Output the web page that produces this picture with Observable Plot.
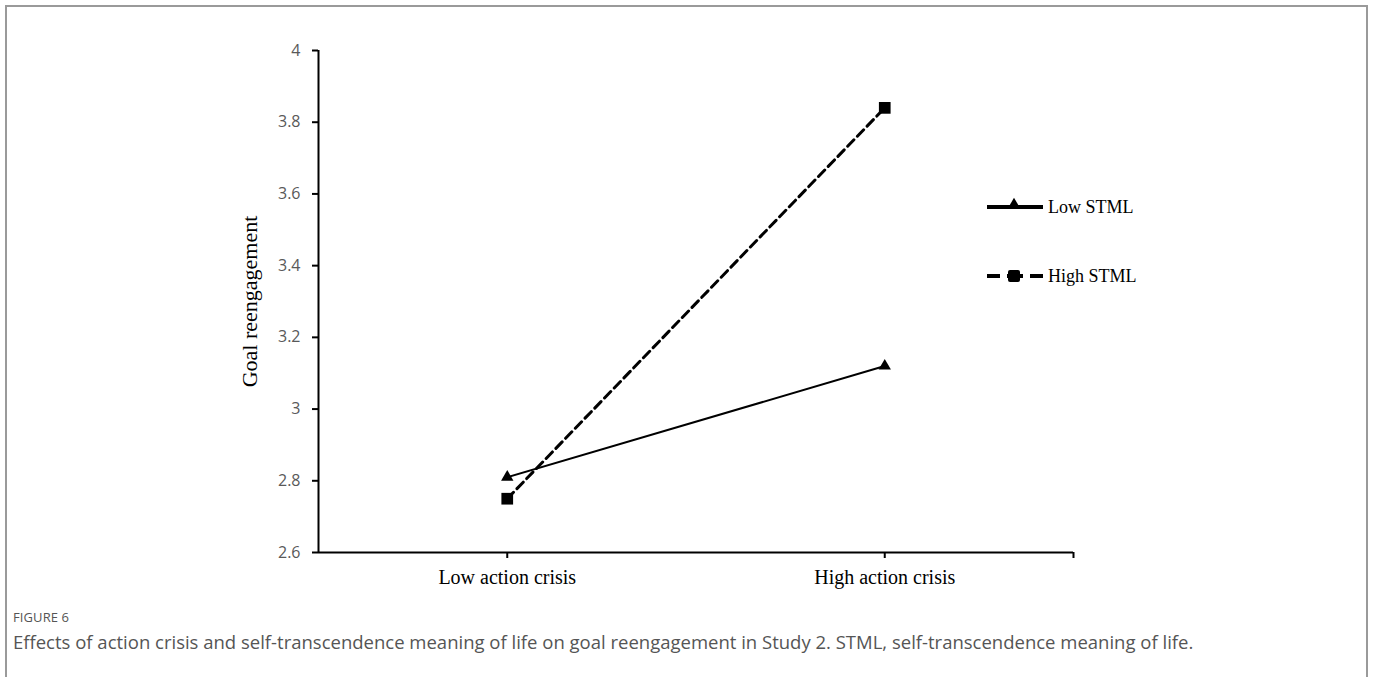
<!DOCTYPE html>
<html>
<head>
<meta charset="utf-8">
<script src="https://cdn.jsdelivr.net/npm/d3@7"></script>
<script src="https://cdn.jsdelivr.net/npm/@observablehq/plot@0.6"></script>
<style>
  html, body { margin: 0; padding: 0; background: #fff; }
  #page { position: relative; width: 1375px; height: 677px; overflow: hidden; }
  #frame { position: absolute; left: 5px; top: 5px; width: 1363px; height: 720px;
           border: 2px solid #9a9a9a; box-sizing: border-box; }
  #chart { position: absolute; left: 0; top: 0; }
  #legend { position: absolute; left: 987px; top: 196px; font-family: "Liberation Serif", serif;
            font-size: 18px; color: #000; }
  .row { display: flex; align-items: center; height: 22px; }
  .row + .row { margin-top: 47px; }
  .row svg { display: block; margin-right: 5px; }
  #fig { position: absolute; left: 13px; top: 608px; font-family: "Open Sans", sans-serif; color: #555;
         font-size: 13px; letter-spacing: 0.1px; }
  #caption { position: absolute; left: 13px; top: 629px; font-family: "Open Sans", sans-serif; color: #555;
             font-size: 18.5px; white-space: nowrap; }
</style>
</head>
<body>
<div id="page">
  <div id="frame"></div>
  <div id="chart"></div>
  <div id="legend"></div>
  <div id="fig">FIGURE 6</div>
  <div id="caption">Effects of action crisis and self-transcendence meaning of life on goal reengagement in Study 2. STML, self-transcendence meaning of life.</div>
</div>
<script>
// Condition means of goal reengagement
const categories = ["Low action crisis", "High action crisis"];
const lowSTML = [2.81, 3.12];
const highSTML = [2.75, 3.84];
const yTicks = [2.6, 2.8, 3, 3.2, 3.4, 3.6, 3.8, 4];
const seriesNames = ["Low STML", "High STML"];
const yLabel = "Goal reengagement";

// Each category occupies one unit on x; points sit at the middle of their slot
const lowRows = categories.map((c, i) => ({category: c, pos: i + 0.5, value: lowSTML[i]}));
const highRows = categories.map((c, i) => ({category: c, pos: i + 0.5, value: highSTML[i]}));
const catTicks = categories.map((c, i) => i + 0.5);
const xTickMarks = [...catTicks, categories.length];

const serif = "Liberation Serif, Times New Roman, serif";

const chart = Plot.plot({
  width: 1375,
  height: 600,
  marginLeft: 318,
  marginRight: 302,
  marginTop: 50,
  marginBottom: 48,
  x: {domain: [0, categories.length], axis: null},
  y: {domain: [yTicks[0], yTicks[yTicks.length - 1]], axis: null},
  style: {background: "transparent", overflow: "visible"},
  marks: [
    // axis lines
    Plot.ruleX([0], {stroke: "#000", strokeWidth: 2}),
    Plot.ruleY([yTicks[0]], {stroke: "#000", strokeWidth: 2}),
    // y ticks and labels
    Plot.axisY(yTicks, {tickSize: 6, text: null, stroke: "#000", strokeWidth: 2, label: null}),
    Plot.axisY(yTicks, {tickSize: 0, tickPadding: 18, tickFormat: d3.format("~g"),
      fill: "#595959", fontSize: 16, fontFamily: "Open Sans, sans-serif", label: null}),
    // x ticks and category labels
    Plot.axisX(xTickMarks, {tickSize: 6, text: null, stroke: "#000", strokeWidth: 2, label: null}),
    Plot.axisX(catTicks, {tickSize: 0, tickPadding: 17, tickFormat: (d) => categories[Math.floor(d)],
      fill: "#000", fontSize: 20, fontFamily: serif, label: null}),
    // y title
    Plot.text([yLabel], {text: (d) => d, frameAnchor: "left", textAnchor: "middle", rotate: -90, dx: -69,
      fontSize: 22, fontFamily: serif, fill: "#000"}),
    // series
    Plot.line(lowRows, {x: "pos", y: "value", stroke: "#000", strokeWidth: 2}),
    Plot.line(highRows, {x: "pos", y: "value", stroke: "#000", strokeWidth: 3, strokeDasharray: "9,5"}),
    Plot.dot(lowRows, {x: "pos", y: "value", symbol: "triangle", r: 4.6, fill: "#000", stroke: "none"}),
    Plot.dot(highRows, {x: "pos", y: "value", symbol: "square", r: 6.6, fill: "#000", stroke: "none"})
  ]
});
document.getElementById("chart").appendChild(chart);

// Legend swatches
const legend = d3.select("#legend");
seriesNames.forEach((name, i) => {
  const row = legend.append("div").attr("class", "row");
  const svg = row.append("svg").attr("width", 56).attr("height", 22);
  if (i === 0) {
    svg.append("line").attr("x1", 0).attr("x2", 56).attr("y1", 11).attr("y2", 11)
      .attr("stroke", "#000").attr("stroke-width", 4);
    svg.append("path").attr("d", d3.symbol(d3.symbolTriangle, 70)()).attr("transform", "translate(27,9)");
  } else {
    svg.append("line").attr("x1", 0).attr("x2", 56).attr("y1", 11).attr("y2", 11)
      .attr("stroke", "#000").attr("stroke-width", 4).attr("stroke-dasharray", "13,7,16,7,13");
    svg.append("rect").attr("x", 21).attr("y", 5).attr("width", 12).attr("height", 12).attr("rx", 2).attr("fill", "#000");
  }
  row.append("span").text(name);
});
</script>
</body>
</html>
